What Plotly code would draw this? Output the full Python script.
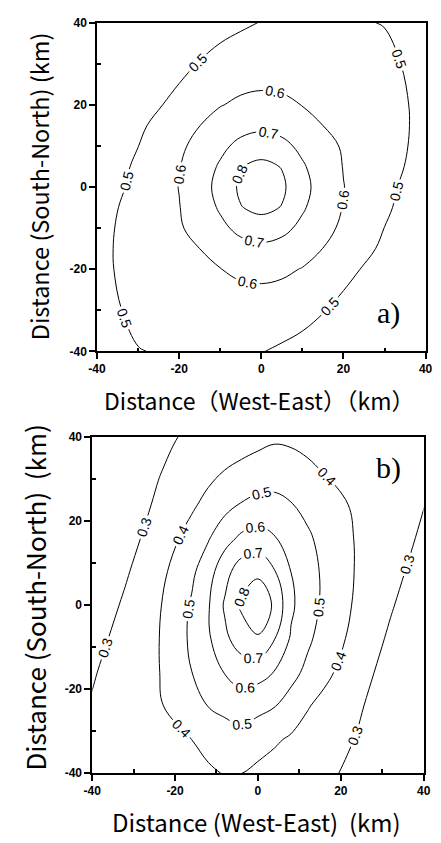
import plotly.graph_objects as go

# ---------- Panel a) grid (km) and values ----------
xa = [-50, -40, -30, -20, -15, -10, -5, 0, 5, 10, 15, 20, 30, 40, 50]
ya = [-50, -40, -30, -20, -15, -10, -5, 0, 5, 10, 15, 20, 30, 40, 50]
za = [
    [0.390, 0.425, 0.455, 0.465, 0.470, 0.470, 0.465, 0.455, 0.440, 0.425, 0.410, 0.390, 0.350, 0.300, 0.270],
    [0.397, 0.447, 0.497, 0.512, 0.517, 0.517, 0.512, 0.503, 0.488, 0.471, 0.455, 0.435, 0.388, 0.340, 0.295],
    [0.415, 0.468, 0.521, 0.541, 0.549, 0.555, 0.557, 0.554, 0.546, 0.530, 0.504, 0.479, 0.424, 0.376, 0.330],
    [0.421, 0.477, 0.533, 0.573, 0.586, 0.598, 0.617, 0.625, 0.617, 0.596, 0.566, 0.523, 0.466, 0.411, 0.359],
    [0.415, 0.476, 0.537, 0.583, 0.600, 0.639, 0.667, 0.678, 0.667, 0.639, 0.599, 0.557, 0.484, 0.425, 0.369],
    [0.407, 0.472, 0.537, 0.591, 0.630, 0.678, 0.725, 0.751, 0.725, 0.678, 0.630, 0.582, 0.499, 0.437, 0.378],
    [0.395, 0.464, 0.533, 0.597, 0.651, 0.711, 0.796, 0.825, 0.796, 0.711, 0.651, 0.596, 0.513, 0.446, 0.382],
    [0.386, 0.452, 0.522, 0.602, 0.659, 0.730, 0.818, 0.880, 0.818, 0.730, 0.659, 0.602, 0.522, 0.452, 0.386],
    [0.382, 0.446, 0.513, 0.596, 0.651, 0.711, 0.796, 0.825, 0.796, 0.711, 0.651, 0.597, 0.533, 0.464, 0.395],
    [0.378, 0.437, 0.499, 0.582, 0.630, 0.678, 0.725, 0.751, 0.725, 0.678, 0.630, 0.591, 0.537, 0.472, 0.407],
    [0.369, 0.425, 0.484, 0.557, 0.599, 0.639, 0.667, 0.678, 0.667, 0.639, 0.600, 0.583, 0.537, 0.476, 0.415],
    [0.359, 0.411, 0.466, 0.523, 0.566, 0.596, 0.617, 0.625, 0.617, 0.598, 0.586, 0.573, 0.533, 0.477, 0.421],
    [0.330, 0.376, 0.424, 0.479, 0.504, 0.530, 0.546, 0.554, 0.557, 0.555, 0.549, 0.541, 0.521, 0.468, 0.415],
    [0.295, 0.340, 0.388, 0.435, 0.455, 0.471, 0.488, 0.503, 0.512, 0.517, 0.517, 0.512, 0.497, 0.447, 0.397],
    [0.270, 0.300, 0.350, 0.390, 0.410, 0.425, 0.440, 0.455, 0.465, 0.470, 0.470, 0.465, 0.455, 0.425, 0.390],
]

# ---------- Panel b) grid (km) and values ----------
xb = [-48, -40, -32, -24, -16, -12, -8, -4, 0, 4, 8, 12, 16, 24, 32, 40, 48]
yb = [-48, -40, -32, -24, -16, -8, 0, 8, 16, 24, 32, 40, 48]
zb = [
    [0.309, 0.320, 0.331, 0.343, 0.356, 0.351, 0.359, 0.340, 0.323, 0.316, 0.310, 0.301, 0.295, 0.259, 0.200, 0.141, 0.090],
    [0.297, 0.317, 0.337, 0.357, 0.378, 0.388, 0.404, 0.401, 0.380, 0.364, 0.349, 0.333, 0.318, 0.277, 0.224, 0.171, 0.118],
    [0.285, 0.314, 0.343, 0.371, 0.400, 0.425, 0.449, 0.462, 0.437, 0.412, 0.388, 0.365, 0.341, 0.295, 0.248, 0.201, 0.154],
    [0.266, 0.307, 0.348, 0.389, 0.462, 0.502, 0.527, 0.552, 0.529, 0.504, 0.457, 0.406, 0.373, 0.312, 0.251, 0.189, 0.127],
    [0.240, 0.292, 0.344, 0.396, 0.499, 0.552, 0.604, 0.643, 0.637, 0.596, 0.533, 0.475, 0.424, 0.340, 0.261, 0.182, 0.110],
    [0.205, 0.269, 0.333, 0.397, 0.516, 0.585, 0.679, 0.750, 0.790, 0.703, 0.588, 0.518, 0.460, 0.366, 0.285, 0.205, 0.125],
    [0.164, 0.239, 0.314, 0.389, 0.510, 0.590, 0.712, 0.815, 0.870, 0.785, 0.617, 0.542, 0.481, 0.383, 0.309, 0.235, 0.161],
    [0.125, 0.207, 0.289, 0.370, 0.480, 0.559, 0.663, 0.755, 0.780, 0.705, 0.599, 0.539, 0.483, 0.391, 0.328, 0.264, 0.200],
    [0.110, 0.183, 0.263, 0.343, 0.434, 0.491, 0.563, 0.617, 0.639, 0.605, 0.561, 0.514, 0.470, 0.391, 0.339, 0.287, 0.235],
    [0.110, 0.174, 0.245, 0.315, 0.385, 0.425, 0.467, 0.505, 0.526, 0.525, 0.504, 0.473, 0.440, 0.384, 0.343, 0.302, 0.261],
    [0.134, 0.187, 0.240, 0.294, 0.348, 0.374, 0.401, 0.421, 0.440, 0.454, 0.434, 0.415, 0.396, 0.368, 0.339, 0.310, 0.281],
    [0.117, 0.170, 0.223, 0.277, 0.316, 0.329, 0.343, 0.357, 0.371, 0.385, 0.384, 0.375, 0.366, 0.348, 0.330, 0.312, 0.294],
    [0.100, 0.153, 0.206, 0.260, 0.284, 0.284, 0.285, 0.293, 0.302, 0.316, 0.334, 0.335, 0.336, 0.328, 0.321, 0.314, 0.300],
]

# contour levels: lowest drawn level and step; the upper bound lies far above
# the data (no extra lines appear) and only lets plotly space labels closer
level_start_a, level_start_b, level_step, level_end = 0.5, 0.3, 0.1, 6.0

tick_vals = [-40, -20, 0, 20, 40]
tick_text = ["-40", "-20", "0", "20", "40"]
minor_vals = [-30, -10, 10, 30]

W, H = 441, 843
OFF = 8  # the page body margin shifts the figure by this many pixels


def px(x):
    return (x - OFF) / W


def py(y):
    return 1 - (y - OFF) / H


def contour(x, y, z, start, xa_name, ya_name):
    return go.Contour(
        x=x, y=y, z=z,
        xaxis=xa_name, yaxis=ya_name,
        autocontour=False,
        contours=dict(start=start, end=level_end, size=level_step, coloring="none",
                      showlabels=True, labelformat=".1f",
                      labelfont=dict(family="Liberation Sans, Arial", size=14, color="black")),
        line=dict(color="black", width=1, smoothing=1.1),
        showscale=False, hoverinfo="skip",
    )


fig = go.Figure()
fig.add_trace(contour(xa, ya, za, level_start_a, "x", "y"))
fig.add_trace(contour(xb, yb, zb, level_start_b, "x2", "y2"))

axis_common = dict(
    range=[-40, 40], tickvals=tick_vals, ticktext=tick_text,
    ticks="outside", ticklen=6, tickwidth=1.5, tickcolor="black",
    showline=True, linecolor="black", linewidth=1.5, mirror=True,
    showgrid=False, zeroline=False,
    tickfont=dict(family="Liberation Sans, Arial", size=12, color="black", weight="bold"),
    minor=dict(tickvals=minor_vals, ticks="inside", ticklen=4, tickcolor="black"),
)

fig.update_layout(
    width=W, height=H,
    margin=dict(l=0, r=0, t=0, b=0),
    paper_bgcolor="white", plot_bgcolor="white",
    showlegend=False,
    xaxis=dict(domain=[px(91), px(432)], anchor="y", **axis_common),
    yaxis=dict(domain=[py(350), py(16)], anchor="x", **axis_common),
    xaxis2=dict(domain=[px(86), px(430)], anchor="y2", **axis_common),
    yaxis2=dict(domain=[py(779), py(437)], anchor="x2", **axis_common),
)

title_font = "Noto Sans CJK JP"
ann = [
    dict(text="Distance（West-East）（km）", x=px(260), y=py(400),
         font=dict(family=title_font, size=23, color="black")),
    dict(text="Distance (South-North) (km)", x=px(31), y=py(182), textangle=-90,
         font=dict(family=title_font, size=23.5, color="black")),
    dict(text="Distance (West-East)  (km)", x=px(257), y=py(828),
         font=dict(family=title_font, size=24, color="black")),
    dict(text="Distance (South-North)  (km)", x=px(26), y=py(600), textangle=-90,
         font=dict(family=title_font, size=26, color="black")),
    dict(text="a)", x=px(393), y=py(311),
         font=dict(family="Liberation Serif, Times New Roman", size=30, color="black")),
    dict(text="b)", x=px(393), y=py(469),
         font=dict(family="Liberation Serif, Times New Roman", size=30, color="black")),
]
for a in ann:
    fig.add_annotation(xref="paper", yref="paper", showarrow=False,
                       xanchor="center", yanchor="middle", **a)

fig.write_html("out.html")
